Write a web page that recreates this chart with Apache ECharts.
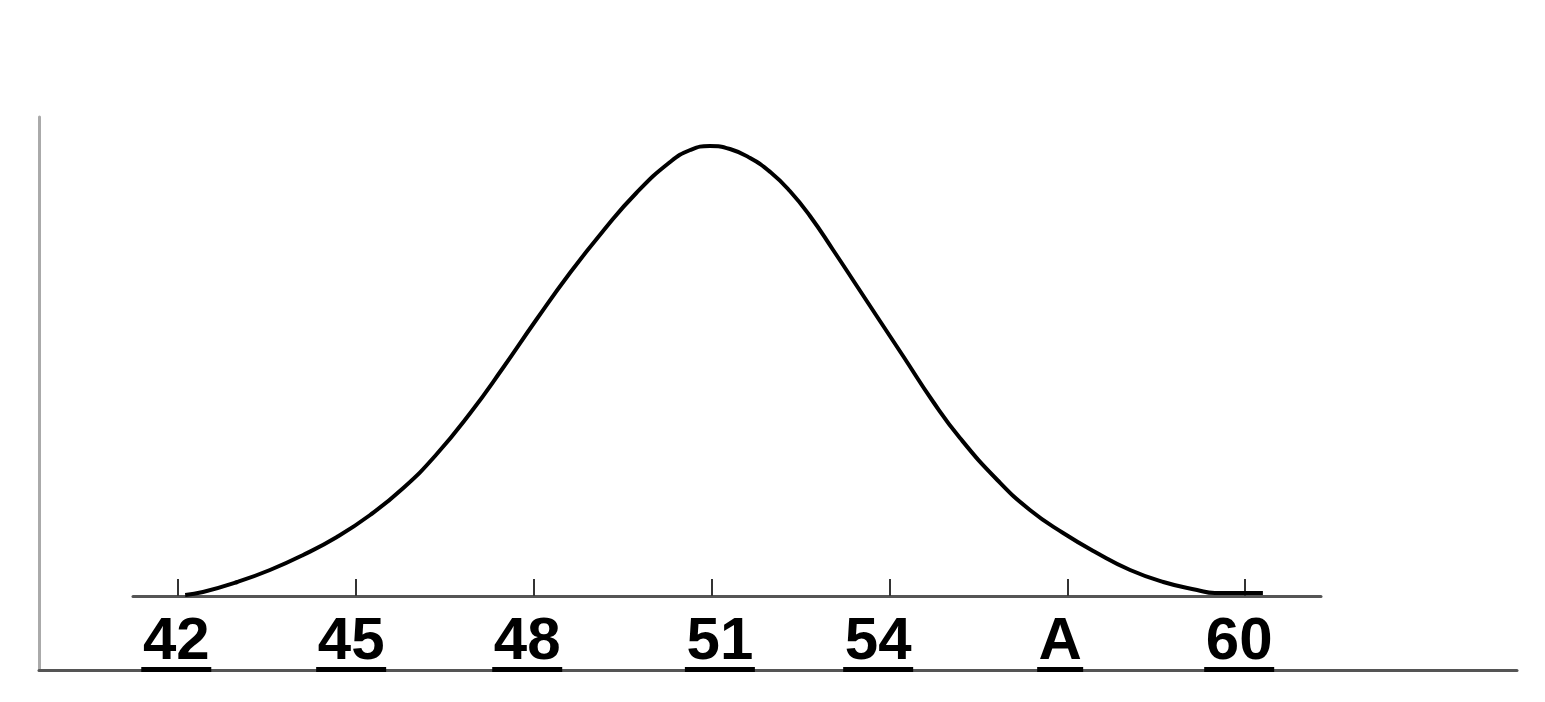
<!DOCTYPE html>
<html>
<head>
<meta charset="utf-8">
<script src="https://cdn.jsdelivr.net/npm/echarts@6/dist/echarts.min.js"></script>
<style>
html,body{margin:0;padding:0;background:#fff;}
#chart{width:1545px;height:702px;}
</style>
</head>
<body>
<div id="chart"></div>
<script>
// Curve points: x value, height above the baseline
const curveX = [42.12, 42.42, 43.0, 43.55, 44.11, 44.68, 45.24, 45.8, 46.35, 46.93, 47.48, 48.04, 48.61, 49.17, 49.73, 50.3, 50.64, 50.97,
                51.31, 51.65, 51.99, 52.32, 52.66, 53.05, 53.44, 53.84, 54.23, 54.74, 55.19, 55.82, 56.37, 56.93, 57.5, 58.06, 58.62, 59.19, 59.49, 60.3];
const curveY = [1, 4, 14, 26, 41, 59, 81, 108, 141, 183, 228, 276, 323, 365, 403, 434, 446, 450,
                447, 438, 424, 405, 380, 346, 311, 275, 240, 194, 158, 116, 86, 63, 43, 26, 14, 6, 3, 3];
// Tick marks and their labels
const tickValues = [42, 45, 48, 51, 54, 57, 60];
const labelValues = [41.97, 44.92, 47.89, 51.14, 53.81, 56.88, 59.9];
const labelTexts = ['42', '45', '48', '51', '54', 'A', '60'];

const FONT = 'bold 60px "Liberation Sans", Arial, sans-serif';
const measureCtx = document.createElement('canvas').getContext('2d');
measureCtx.font = FONT;
function textWidth(s) { return measureCtx.measureText(s).width; }

function labelFor(v) {
  let best = 0, bd = Infinity;
  labelValues.forEach((lv, i) => { const d = Math.abs(lv - v); if (d < bd) { bd = d; best = i; } });
  return best;
}

const rich = { t: { fontFamily: '"Liberation Sans", Arial, sans-serif', fontWeight: 'bold', fontSize: 60, lineHeight: 50, color: '#000', align: 'center' } };
labelTexts.forEach((s, i) => {
  rich['u' + i] = { width: Math.round(textWidth(s) + 3), height: 5, lineHeight: 5, fontSize: 1, backgroundColor: '#000', align: 'center' };
});

const data = curveX.map((x, i) => [x, curveY[i]]);

const chart = echarts.init(document.getElementById('chart'), null, { renderer: 'canvas' });
chart.setOption({
  animation: false,
  backgroundColor: '#fff',
  grid: [
    { left: 133, right: 224, top: 96, bottom: 106, containLabel: false },
    { left: 39, right: 28, top: 117, bottom: 32, containLabel: false }
  ],
  xAxis: [
    {
      type: 'value', gridIndex: 0, min: 41.24, max: 61.28,
      axisLine: { show: true, onZero: false, lineStyle: { color: '#555', width: 3 } },
      axisTick: { show: true, inside: true, length: 17, customValues: tickValues, lineStyle: { color: '#333', width: 2 } },
      axisLabel: {
        show: true, margin: 21, customValues: labelValues,
        formatter: function (v) { const i = labelFor(v); return '{t|' + labelTexts[i] + '}\n{u' + i + '| }'; },
        rich: rich
      },
      splitLine: { show: false }
    },
    {
      type: 'value', gridIndex: 1, min: 0, max: 1,
      axisLine: { show: true, onZero: false, lineStyle: { color: '#555', width: 3 } },
      axisTick: { show: false }, axisLabel: { show: false }, splitLine: { show: false }
    }
  ],
  yAxis: [
    { type: 'value', gridIndex: 0, min: 0, max: 500, show: false },
    {
      type: 'value', gridIndex: 1, min: 0, max: 1,
      axisLine: { show: true, onZero: false, lineStyle: { color: '#aaa', width: 3 } },
      axisTick: { show: false }, axisLabel: { show: false }, splitLine: { show: false }
    }
  ],
  series: [
    {
      type: 'line', xAxisIndex: 0, yAxisIndex: 0, data: data,
      smooth: 0.5, showSymbol: false, symbol: 'none',
      lineStyle: { color: '#000', width: 4 }, z: 5
    }
  ]
});
</script>
</body>
</html>
